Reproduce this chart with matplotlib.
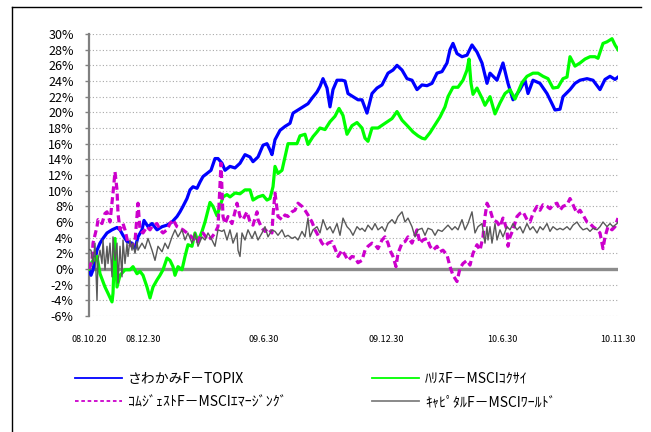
import matplotlib
matplotlib.use('Agg')
import matplotlib.pyplot as plt
from matplotlib.lines import Line2D
from matplotlib.ticker import MultipleLocator, FuncFormatter

plt.rcParams['font.family'] = ['Noto Sans CJK JP', 'DejaVu Sans']

# 営業日インデックス (08.10.20 = 0) と累積リターン[%]
sawakami_day = [0, 2, 4, 8, 11, 14, 18, 23, 28, 31, 34, 38, 43, 46, 49, 53, 55, 59, 63, 68,
                73, 78, 83, 88, 91, 94, 98, 101, 104, 108, 111, 114, 118, 122, 126, 129, 133,
                136, 141, 146, 151, 156, 161, 164, 169, 174, 178, 181, 183, 186, 191, 196, 201,
                204, 209, 214, 219, 223, 228, 231, 234, 238, 241, 244, 248, 253, 256, 259, 264,
                269, 273, 278, 283, 288, 293, 299, 304, 308, 313, 318, 323, 328, 333, 338, 343,
                348, 353, 358, 361, 364, 368, 373, 378, 383, 388, 393, 398, 401, 408, 414, 419,
                424, 431, 436, 439, 444, 451, 458, 463, 466, 471, 474, 481, 486, 491, 498, 504,
                511, 516, 521, 526, 529]
sawakami_val = [0.0, -0.8, -0.1, 2.4, 3.3, 3.9, 4.6, 5.0, 5.3, 5.0, 4.3, 3.5, 3.3, 2.6, 4.1, 5.0,
                6.2, 5.4, 5.8, 5.0, 5.4, 5.6, 6.0, 6.7, 7.3, 8.0, 9.0, 10.1, 10.5, 10.3, 11.1, 11.8,
                12.2, 12.6, 14.1, 14.1, 13.5, 12.6, 13.1, 12.9, 13.5, 14.6, 14.3, 13.7, 14.3, 15.8,
                16.0, 15.2, 14.6, 16.5, 17.7, 18.2, 18.6, 19.9, 20.3, 20.7, 21.1, 21.8, 22.6, 23.3,
                24.3, 23.1, 20.7, 22.9, 24.1, 24.1, 24.0, 22.4, 22.0, 21.6, 21.6, 19.9, 22.4, 23.1,
                23.5, 25.0, 25.4, 26.0, 25.4, 24.3, 24.1, 22.9, 23.5, 23.4, 23.7, 25.0, 25.2, 26.3,
                28.0, 28.8, 27.5, 27.1, 27.3, 28.6, 27.7, 26.3, 23.7, 25.0, 24.1, 26.3, 23.7, 21.6,
                22.9, 24.1, 22.4, 24.1, 23.7, 22.4, 21.1, 20.3, 20.4, 22.0, 22.9, 23.7, 24.1, 24.3,
                24.1, 22.9, 24.2, 24.6, 24.2, 24.5]

harris_day = [0, 3, 8, 11, 16, 19, 23, 24, 26, 28, 31, 36, 41, 44, 48, 51, 54, 58, 61, 64, 68,
              71, 74, 78, 81, 84, 86, 89, 93, 96, 99, 103, 106, 109, 113, 116, 119, 121, 124, 128,
              131, 134, 138, 141, 146, 151, 156, 161, 164, 169, 174, 178, 181, 184, 186, 189, 193,
              196, 199, 203, 208, 211, 216, 219, 224, 228, 231, 236, 241, 246, 250, 254, 258, 263,
              268, 273, 276, 279, 283, 289, 296, 303, 308, 313, 319, 324, 329, 333, 336, 341, 346,
              351, 356, 359, 364, 369, 374, 378, 380, 382, 384, 388, 393, 396, 401, 406, 411, 416,
              421, 426, 429, 433, 438, 444, 449, 454, 459, 464, 469, 474, 478, 481, 486, 491, 496,
              501, 506, 509, 514, 518, 523, 526, 529]
harris_val = [0.0, 0.9, 1.6, -0.6, -2.3, -3.1, -4.2, -3.1, 3.9, -2.3, -0.8, -0.1, -0.1, 0.3, -0.6,
              -0.3, -0.8, -2.3, -3.7, -2.3, -1.4, -0.8, -0.1, 1.4, 1.1, 0.3, -0.8, 0.3, -0.1, 1.6,
              3.1, 2.9, 4.6, 3.5, 4.8, 6.0, 7.5, 8.5, 8.0, 6.8, 8.0, 9.2, 9.5, 9.2, 9.7, 9.6, 10.1,
              10.1, 8.8, 9.2, 9.4, 8.8, 9.0, 10.5, 13.1, 12.2, 12.6, 14.3, 16.0, 16.0, 16.0, 17.0,
              17.2, 15.9, 16.9, 17.5, 18.0, 17.8, 18.8, 19.5, 20.5, 19.6, 17.2, 18.3, 18.7, 18.0,
              16.7, 16.3, 18.0, 18.0, 18.6, 19.2, 20.1, 19.0, 18.2, 17.5, 17.0, 16.7, 16.6, 17.4,
              18.4, 19.4, 20.7, 22.0, 23.2, 23.2, 24.1, 25.4, 26.8, 23.7, 22.3, 23.1, 21.8, 20.9,
              22.0, 19.8, 21.2, 22.4, 22.9, 21.7, 22.6, 23.8, 24.6, 25.0, 25.0, 24.6, 24.3, 23.1,
              23.2, 24.3, 24.5, 27.1, 25.9, 26.3, 26.8, 27.1, 27.1, 26.9, 28.8, 29.0, 29.4, 28.6,
              28.0]

comgest_day = [0, 3, 4, 8, 9, 13, 16, 18, 21, 24, 26, 28, 29, 31, 34, 36, 39, 43, 46, 49, 51,
               54, 58, 61, 64, 68, 71, 74, 78, 81, 84, 88, 91, 94, 98, 101, 104, 108, 111, 114,
               119, 123, 126, 129, 132, 134, 136, 139, 143, 146, 148, 151, 154, 158, 161, 164, 168,
               169, 173, 176, 179, 183, 184, 186, 189, 193, 196, 199, 203, 206, 209, 213, 216, 219,
               223, 226, 229, 233, 236, 239, 243, 246, 249, 253, 256, 259, 263, 266, 269, 273, 276,
               279, 283, 286, 289, 293, 296, 299, 301, 304, 307, 309, 313, 316, 319, 323, 326, 328,
               331, 334, 338, 341, 344, 348, 351, 354, 358, 361, 364, 368, 371, 374, 378, 381, 384,
               388, 391, 394, 396, 398, 401, 404, 408, 411, 414, 418, 419, 421, 424, 428, 431, 434,
               438, 441, 444, 448, 451, 454, 458, 461, 464, 468, 471, 474, 478, 481, 484, 488, 491,
               494, 498, 501, 504, 508, 511, 514, 516, 519, 523, 526, 529]
comgest_val = [0.0, 1.1, 3.3, 5.4, 6.3, 5.8, 7.1, 7.3, 6.0, 9.7, 12.4, 10.1, 7.1, 5.0, 5.8, 5.0,
               3.3, 2.9, 3.5, 8.4, 5.0, 4.6, 5.4, 5.0, 5.6, 5.8, 5.0, 4.6, 5.0, 5.8, 6.3, 5.4, 5.2,
               5.0, 4.6, 4.3, 3.9, 3.3, 4.1, 4.6, 3.7, 4.1, 4.6, 5.4, 13.5, 6.7, 5.8, 6.7, 5.8, 7.3,
               8.4, 6.7, 6.3, 7.3, 6.0, 5.6, 7.3, 6.3, 5.2, 4.8, 5.2, 4.6, 6.9, 9.7, 6.7, 6.3, 6.9,
               6.7, 7.3, 7.5, 8.4, 8.0, 7.5, 6.9, 6.0, 5.0, 4.3, 3.3, 2.9, 3.3, 3.5, 2.6, 1.6, 2.4,
               1.8, 1.1, 1.6, 1.5, 0.8, 1.1, 2.4, 2.9, 3.3, 3.1, 2.6, 3.7, 4.1, 3.3, 2.4, 1.6, 0.3,
               2.0, 3.3, 3.5, 4.1, 3.3, 4.3, 5.0, 3.3, 3.7, 3.9, 2.9, 2.4, 2.9, 2.2, 2.4, 1.8, 0.3,
               -0.8, -1.6, 0.1, 0.7, 1.1, 0.5, 2.0, 3.1, 2.4, 4.1, 6.7, 8.4, 7.6, 6.3, 6.0, 5.4,
               6.5, 5.0, 2.9, 4.1, 5.0, 6.7, 7.1, 7.3, 6.3, 6.0, 7.1, 8.0, 7.5, 8.2, 8.0, 7.7, 8.2,
               8.4, 7.5, 8.0, 8.2, 9.0, 8.2, 7.1, 7.5, 6.9, 6.0, 5.8, 5.4, 5.0, 4.6, 2.6, 4.1, 5.4,
               5.0, 5.4, 6.5]

capital_day = [0, 2, 4, 6, 8, 9, 11, 13, 14, 16, 18, 19, 21, 23, 24, 26, 28, 29, 31, 33, 34,
               36, 38, 39, 41, 43, 44, 46, 48, 49, 53, 56, 59, 63, 66, 69, 73, 76, 79, 83, 86, 89,
               93, 96, 99, 103, 106, 109, 113, 116, 119, 123, 126, 129, 133, 135, 138, 141, 144,
               148, 149, 151, 153, 156, 159, 163, 166, 169, 173, 176, 179, 183, 186, 189, 193, 196,
               199, 203, 206, 209, 213, 216, 219, 221, 224, 228, 231, 234, 238, 241, 244, 248, 251,
               254, 258, 261, 264, 268, 271, 273, 276, 279, 283, 286, 289, 293, 296, 299, 303, 306,
               309, 313, 316, 319, 323, 326, 329, 333, 336, 339, 343, 346, 349, 353, 356, 359, 363,
               366, 369, 373, 376, 379, 383, 386, 389, 393, 396, 398, 399, 401, 403, 406, 408, 411,
               414, 418, 421, 424, 428, 431, 434, 438, 441, 444, 448, 451, 454, 458, 461, 464, 468,
               471, 474, 478, 481, 484, 488, 491, 494, 498, 501, 504, 508, 511, 514, 518, 521, 524,
               528, 529]
capital_val = [2.5, 2.4, 0.7, 3.3, -4.0, 1.1, 2.4, 0.7, 3.7, -0.1, 2.9, 0.7, 3.3, -1.0, 4.1, 1.1,
               3.3, -1.8, 2.9, -1.0, 3.7, 0.7, 3.3, 1.6, 3.7, 2.4, 3.3, 2.0, 3.5, 2.4, 3.3, 2.6, 3.9,
               2.4, 1.1, 2.9, 2.2, 3.3, 2.6, 4.1, 5.0, 4.1, 5.0, 3.7, 4.6, 3.3, 4.6, 2.9, 4.1, 3.7,
               4.6, 3.7, 2.9, 5.0, 4.8, 5.0, 3.7, 5.0, 3.3, 4.6, 2.4, 1.6, 4.6, 3.7, 5.0, 3.9, 4.8,
               3.7, 4.6, 5.4, 4.1, 5.0, 4.8, 4.3, 5.0, 4.1, 4.3, 3.9, 4.1, 3.7, 4.8, 4.1, 6.5, 4.1,
               5.0, 5.4, 4.6, 6.3, 5.0, 5.4, 4.6, 5.8, 4.3, 6.5, 5.4, 5.0, 4.3, 5.4, 5.0, 5.2, 4.8,
               5.6, 5.0, 5.8, 5.0, 5.4, 4.8, 5.8, 6.3, 5.8, 6.7, 7.3, 6.0, 6.5, 5.4, 4.1, 5.0, 5.2,
               4.3, 5.2, 5.0, 4.3, 5.0, 4.8, 5.2, 5.6, 5.0, 5.4, 5.0, 6.3, 5.0, 5.8, 7.3, 4.6, 5.4,
               5.8, 3.3, 5.4, 3.7, 5.4, 3.3, 5.8, 3.7, 5.0, 4.1, 5.4, 5.0, 5.8, 5.0, 5.4, 4.6, 5.8,
               5.0, 5.4, 4.6, 5.4, 5.0, 5.8, 4.8, 5.4, 5.0, 5.2, 5.0, 5.4, 5.0, 5.6, 6.0, 5.4, 5.0,
               5.2, 4.8, 5.2, 5.0, 5.4, 6.0, 5.4, 5.8, 5.4, 5.8, 6.0]

tick_day = [0, 54, 175, 297, 413, 529]
tick_label = ['08.10.20', '08.12.30', '09.6.30', '09.12.30', '10.6.30', '10.11.30']

names = ['さわかみF－TOPIX', 'ﾊﾘｽF－MSCIｺｸｻｲ', 'ｺﾑｼﾞｪｽﾄF－MSCIｴﾏｰｼﾞﾝｸﾞ', 'ｷｬﾋﾟﾀﾙF－MSCIﾜｰﾙﾄﾞ']
colors = ['#0000FF', '#00FF00', '#CC00CC', '#595959']

W, H = 651, 432
fig = plt.figure(figsize=(W / 100, H / 100), dpi=100)
ax = fig.add_axes([89 / W, 1 - 316 / H, (618 - 89) / W, (316 - 34) / H])

ax.plot(sawakami_day, sawakami_val, color=colors[0], lw=2.3, zorder=3)
ax.plot(harris_day, harris_val, color=colors[1], lw=2.3, zorder=3)
ax.plot(comgest_day, comgest_val, color=colors[2], lw=2.3, ls=(0, (2.2, 1.2)), zorder=3)
ax.plot(capital_day, capital_val, color=colors[3], lw=1.0, zorder=3)

ax.axhline(0, color='#8C8C8C', lw=2.4, zorder=2)

ax.set_xlim(0, 529)
ax.set_ylim(-6, 30)
ax.yaxis.set_major_locator(MultipleLocator(2))
ax.yaxis.set_major_formatter(FuncFormatter(lambda v, p: '%d%%' % round(v)))
ax.yaxis.grid(True, ls=(0, (1, 2)), color='#A8A8A8', lw=0.8, zorder=1)
ax.set_xticks(tick_day)
ax.set_xticklabels(tick_label)

for s in ['top', 'right', 'bottom']:
    ax.spines[s].set_visible(False)
ax.spines['left'].set_color('#808080')
ax.spines['left'].set_linewidth(1.6)
ax.tick_params(axis='y', direction='out', length=3, width=1, color='#808080',
               labelsize=9, pad=8)
ax.tick_params(axis='x', length=0, labelsize=6.5, pad=14)

# 凡例
h1 = [Line2D([], [], color=colors[0], lw=1.3),
      Line2D([], [], color=colors[2], lw=1.3, ls=(0, (2, 1.5)))]
h2 = [Line2D([], [], color=colors[1], lw=1.3),
      Line2D([], [], color='#808080', lw=1.3)]
kw = dict(loc='upper left', frameon=False, fontsize=10, handlelength=3.4,
          handletextpad=0.4, labelspacing=0.65, borderpad=0, borderaxespad=0)
leg1 = fig.legend(h1, [names[0], names[2]], bbox_to_anchor=(75 / W, 1 - 372 / H), **kw)
leg2 = fig.legend(h2, [names[1], names[3]], bbox_to_anchor=(372 / W, 1 - 372 / H), **kw)

# 外枠
fig.add_artist(Line2D([12 / W, 12 / W], [0, 1 - 7 / H], transform=fig.transFigure,
                      color='black', lw=1))
fig.add_artist(Line2D([12 / W, 641 / W], [1 - 7 / H, 1 - 7 / H], transform=fig.transFigure,
                      color='black', lw=1))

fig.savefig('out.png', dpi=100)
